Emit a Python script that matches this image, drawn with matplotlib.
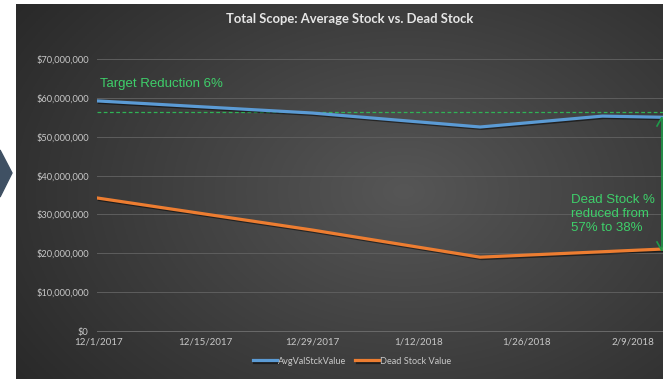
import numpy as np
import pandas as pd
import matplotlib
matplotlib.use("Agg")
import matplotlib.pyplot as plt
import matplotlib.dates as mdates
import matplotlib.patheffects as pe
from matplotlib.patches import Polygon

# data
dates = pd.to_datetime(["2017-12-01", "2017-12-29", "2018-01-20", "2018-02-05", "2018-02-13"])
avg_stock = [59.2e6, 56.1e6, 52.5e6, 55.3e6, 55.0e6]
dead_stock = [34.2e6, 26.0e6, 19.0e6, 20.4e6, 21.1e6]
target_value = 56.4e6
tick_dates = pd.to_datetime(["2017-12-01", "2017-12-15", "2017-12-29",
                             "2018-01-12", "2018-01-26", "2018-02-09"])
y_ticks = [0, 10e6, 20e6, 30e6, 40e6, 50e6, 60e6, 70e6]

W, H = 663, 379
fig = plt.figure(figsize=(W / 100, H / 100), dpi=100)
fig.patch.set_facecolor("white")

# dark gradient panel behind the chart
bg = fig.add_axes([16 / W, 0, 1 - 16 / W, 1 - 4 / H])
yy, xx = np.mgrid[0:1:200j, 0:1:300j]
r = np.sqrt(((xx - 0.6) / 0.75) ** 2 + ((yy - 0.5) / 0.9) ** 2)
shade = np.clip(1 - r, 0, 1)
c0 = np.array([0x28, 0x28, 0x28]) / 255
c1 = np.array([0x56, 0x56, 0x56]) / 255
img = c0 + (c1 - c0) * shade[..., None]
bg.imshow(img, aspect="auto", extent=[0, 1, 0, 1])
bg.axis("off")

# little chevron on the far left
deco = fig.add_axes([0, 0, 1, 1], zorder=5)
deco.set_xlim(0, W)
deco.set_ylim(H, 0)
deco.axis("off")
deco.add_patch(Polygon([(0, 150), (12, 173), (0, 197)], closed=True, color="#3f5063"))

# plot area
x0 = mdates.date2num(pd.Timestamp("2017-12-01"))
px_per_day = 107 / 14
ax = fig.add_axes([97 / W, (H - 331) / H, 1 - 97 / W, (331 - 59) / H], zorder=2)
ax.set_facecolor("none")
ax.set_xlim(x0 - 1 / px_per_day, x0 + (663 - 98) / px_per_day)
ax.set_ylim(0, 70e6)

shadow = [pe.SimpleLineShadow(offset=(1, -1), alpha=0.5, shadow_color="black"), pe.Normal()]
ax.plot(dates, avg_stock, color="#5b9bd5", lw=2.3, label="AvgValStckValue",
        path_effects=shadow, solid_joinstyle="round", zorder=4)
ax.plot(dates, dead_stock, color="#ed7d31", lw=2.3, label="Dead Stock Value",
        path_effects=shadow, solid_joinstyle="round", zorder=4)
ax.axhline(target_value, color="#2fb356", lw=0.9, ls=(0, (3, 2)), zorder=3)

ax.set_yticks(y_ticks)
ax.set_yticklabels(["${:,.0f}".format(v) for v in y_ticks])
ax.set_xticks(tick_dates)
ax.set_xticklabels(["{}/{}/{}".format(d.month, d.day, d.year) for d in tick_dates])
ax.grid(axis="y", color="#5e5e5e", lw=0.7)
ax.tick_params(axis="both", length=0, colors="#c8c8c8", labelsize=7, pad=5)
ax.tick_params(axis="y", pad=6, labelsize=6.7)
for s in ["top", "right", "left"]:
    ax.spines[s].set_visible(False)
ax.spines["bottom"].set_color("#6a6a6a")
ax.spines["bottom"].set_linewidth(0.7)
for lab in ax.get_xticklabels() + ax.get_yticklabels():
    lab.set_family("Lato")

fig.text(350 / W, 1 - 19 / H, "Total Scope: Average Stock vs. Dead Stock", ha="center", va="center",
         fontsize=9.4, fontweight="bold", color="#e6e6e6", family="Lato")

leg = fig.legend(loc="center", bbox_to_anchor=(352 / W, 1 - 361 / H), ncol=2, frameon=False,
                 handlelength=2.6, handletextpad=0.1, columnspacing=1.0,
                 labelcolor="#c8c8c8", prop={"family": "Lato", "size": 6.6})

# annotations
deco.text(100, 84, "Target Reduction 6%", color="#3ecf6a", fontsize=9.5,
          family="Liberation Sans", va="center", ha="left")
deco.text(571, 214, "Dead Stock %\nreduced from\n57% to 38%", color="#3ecf6a", fontsize=9.5,
          family="Liberation Sans", va="center", ha="left", linespacing=1.2)
deco.plot([661.5, 661.5], [118, 250], color="#1f9a4a", lw=1.2)
deco.plot([657, 661.5], [126, 118], color="#1f9a4a", lw=1.2)
deco.plot([657, 661.5], [242, 250], color="#1f9a4a", lw=1.2)

fig.savefig("out.png", dpi=100)
